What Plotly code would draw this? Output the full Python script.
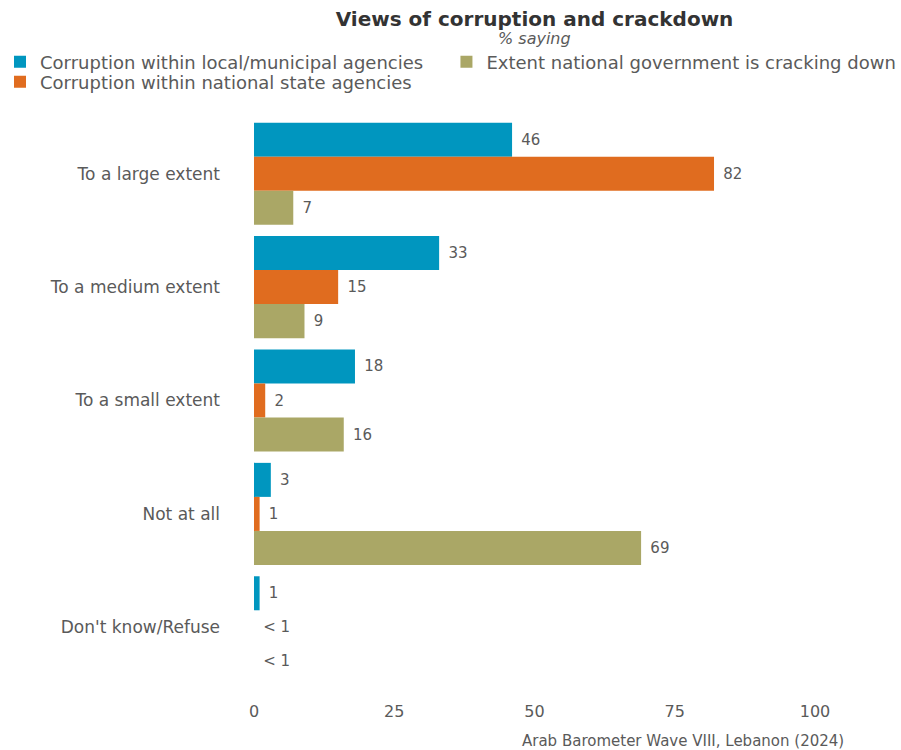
import plotly.graph_objects as go

# Survey responses (% saying), Lebanon 2024
categories = ["To a large extent", "To a medium extent", "To a small extent",
              "Not at all", "Don't know/Refuse"]

series_names = ["Corruption within local/municipal agencies",
                "Corruption within national state agencies",
                "Extent national government is cracking down on corruption"]

local_values = [46, 33, 18, 3, 1]
national_values = [82, 15, 2, 1, 0]
crackdown_values = [7, 9, 16, 69, 0]

local_labels = ["46", "33", "18", "3", "1"]
national_labels = ["82", "15", "2", "1", "< 1"]
crackdown_labels = ["7", "9", "16", "69", "< 1"]

x_ticks = [0, 25, 50, 75, 100]

colors = ["#0096bf", "#e06c1f", "#aaa766"]
FONT = "DejaVu Sans"
GREY = "#5a5a5a"

fig = go.Figure()
# each series gets its own legend box so the rows can be placed freely
legends = ["legend", "legend3", "legend2"]
for name, vals, labels, color, lg in zip(
        series_names,
        [local_values, national_values, crackdown_values],
        [local_labels, national_labels, crackdown_labels],
        colors, legends):
    fig.add_trace(go.Bar(
        y=categories, x=vals, orientation="h", name=name,
        marker=dict(color=color, line=dict(width=0)),
        text=labels, texttemplate="\u00a0\u200a%{text}",
        textposition="outside", cliponaxis=False,
        textfont=dict(family=FONT, size=15, color=GREY),
        legend=lg,
    ))

legend_style = dict(
    orientation="v", xref="container", xanchor="left",
    yref="container", yanchor="top",
    font=dict(family=FONT, size=18, color=GREY),
    bgcolor="rgba(0,0,0,0)",
)

fig.update_layout(
    width=901, height=750,
    margin=dict(l=254, r=86, t=117, b=66, autoexpand=False),
    paper_bgcolor="white", plot_bgcolor="white",
    barmode="group", bargap=0.1, bargroupgap=0,
    font=dict(family=FONT, color=GREY),
    title=dict(
        text="<b>Views of corruption and crackdown</b>",
        x=0.5, xref="paper", xanchor="center",
        y=0.975, yref="container", yanchor="middle",
        font=dict(family=FONT, size=20, color="#333333"),
    ),
    legend=dict(legend_style, x=0, y=1 - 43.5 / 750),
    legend3=dict(legend_style, x=0, y=1 - 63.5 / 750),
    legend2=dict(legend_style, x=0.4955, y=1 - 43.5 / 750),
    showlegend=True,
)

fig.update_xaxes(
    range=[0, 100], tickvals=x_ticks, showgrid=False, zeroline=False,
    showline=False, ticks="", ticklabelstandoff=16,
    tickfont=dict(family=FONT, size=16, color=GREY),
)
fig.update_yaxes(
    autorange="reversed", showgrid=False, zeroline=False, showline=False,
    ticks="", ticklabelstandoff=33,
    tickfont=dict(family=FONT, size=17, color=GREY),
)

# subtitle under the title
fig.add_annotation(
    text="<i>% saying</i>",
    xref="paper", yref="paper", x=0.5, y=1 + (117 - 39) / 567,
    xanchor="center", yanchor="middle", showarrow=False,
    font=dict(family=FONT, size=16, color=GREY),
)

# source note
fig.add_annotation(
    text="Arab Barometer Wave VIII, Lebanon (2024)",
    xref="paper", yref="paper", x=1.056, y=-0.1,
    xanchor="right", yanchor="middle", showarrow=False,
    font=dict(family=FONT, size=15, color=GREY),
)

fig.write_html("out.html")
